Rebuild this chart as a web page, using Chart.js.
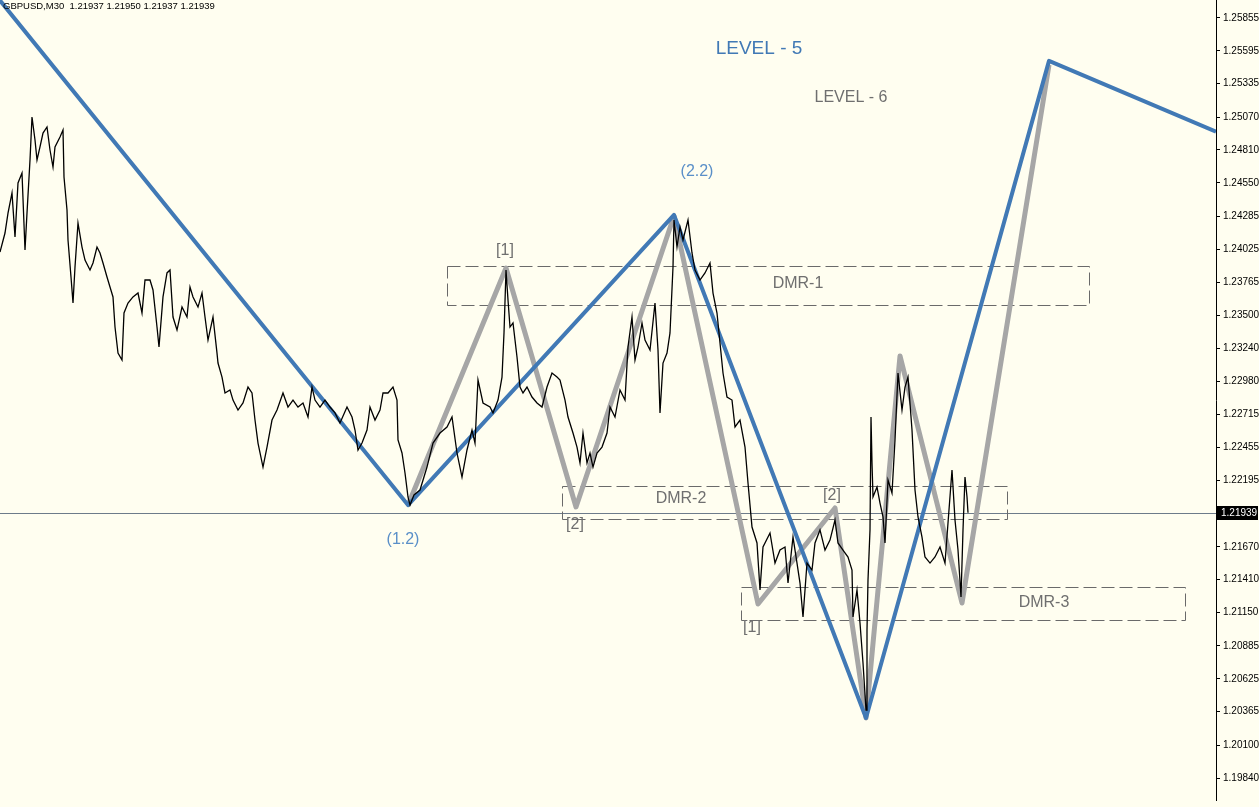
<!DOCTYPE html>
<html>
<head>
<meta charset="utf-8">
<title>GBPUSD M30</title>
<script src="https://cdn.jsdelivr.net/npm/chart.js@4.4.1/dist/chart.umd.min.js"></script>
<style>
    body { margin: 0; background: #fffef0; }
    #wrap { width: 1259px; height: 807px; position: relative; }
    canvas { background: #fffef0; }
</style>
</head>
<body>
<div id="wrap"><canvas id="priceChart"></canvas></div>
<script>
// Price axis ticks (right scale)
const tickValues = [1.25855, 1.25595, 1.25335, 1.25070, 1.24810, 1.24550, 1.24285, 1.24025,
    1.23765, 1.23500, 1.23240, 1.22980, 1.22715, 1.22455, 1.22195, 1.21670, 1.21410,
    1.21150, 1.20885, 1.20625, 1.20365, 1.20100, 1.19840];
const lastPrice = 1.21939;
const header = 'GBPUSD,M30  1.21937 1.21950 1.21937 1.21939';

// Close price, traced bar by bar
const priceBars = [0, 5, 8, 12, 15, 18, 22, 25, 27, 30, 32, 35, 37, 40, 43, 47, 50, 53, 55, 60,
    63, 64, 67, 68, 71, 73, 75, 78, 82, 85, 90, 93, 97, 100, 103, 107, 110, 113, 115, 118,
    122, 124, 128, 133, 138, 142, 145, 150, 153, 157, 159, 163, 167, 170, 173, 177, 182, 187, 190, 193,
    198, 202, 205, 208, 213, 217, 218, 222, 225, 230, 233, 238, 243, 248, 252, 255, 258, 263, 267, 272,
    277, 283, 288, 293, 298, 303, 308, 312, 315, 320, 325, 330, 335, 340, 347, 352, 355, 358, 362, 367,
    370, 375, 380, 383, 388, 393, 397, 398, 402, 405, 408, 410, 414, 420, 427, 433, 440, 447, 452, 457,
    462, 467, 472, 475, 478, 483, 490, 493, 498, 502, 504, 506, 508, 510, 513, 517, 520, 523, 527, 532,
    537, 542, 547, 552, 557, 560, 565, 568, 573, 577, 580, 583, 587, 590, 593, 597, 602, 607, 610, 615,
    620, 625, 628, 632, 635, 638, 642, 645, 650, 655, 658, 660, 663, 667, 670, 673, 674, 677, 680, 683,
    688, 692, 695, 700, 705, 710, 713, 717, 720, 723, 727, 732, 735, 740, 745, 748, 752, 757, 760, 763,
    770, 775, 780, 785, 788, 793, 797, 800, 803, 807, 812, 815, 820, 825, 830, 835, 838, 843, 848, 852,
    853, 857, 860, 863, 866, 867, 868, 870, 871, 872, 873, 877, 880, 883, 885, 888, 892, 895, 898, 902,
    905, 908, 912, 915, 918, 922, 925, 930, 935, 940, 945, 948, 952, 955, 958, 961, 963, 965, 967, 968];
const priceValues = [1.24003, 1.24153, 1.24311, 1.24470, 1.24121, 1.24549, 1.24628, 1.24019, 1.24311, 1.24731,
    1.25071, 1.24889, 1.24731, 1.24834, 1.24944, 1.24992, 1.24810, 1.24675, 1.24834, 1.24913,
    1.24968, 1.24596, 1.24335, 1.24098, 1.23805, 1.23599, 1.23884, 1.24232, 1.24042, 1.23939,
    1.23860, 1.23916, 1.24042, 1.23995, 1.23916, 1.23805, 1.23726, 1.23647, 1.23409, 1.23203,
    1.23148, 1.23520, 1.23599, 1.23647, 1.23678, 1.23520, 1.23781, 1.23781, 1.23702, 1.23409,
    1.23251, 1.23647, 1.23837, 1.23860, 1.23488, 1.23385, 1.23567, 1.23488, 1.23726, 1.23647,
    1.23567, 1.23678, 1.23488, 1.23306, 1.23488, 1.23203, 1.23124, 1.23013, 1.22887, 1.22911,
    1.22831, 1.22752, 1.22808, 1.22934, 1.22887, 1.22673, 1.22491, 1.22301, 1.22459, 1.22673,
    1.22752, 1.22887, 1.22776, 1.22831, 1.22776, 1.22808, 1.22697, 1.22934, 1.22831, 1.22776,
    1.22831, 1.22776, 1.22729, 1.22649, 1.22776, 1.22697, 1.22594, 1.22436, 1.22491, 1.22594,
    1.22776, 1.22673, 1.22752, 1.22887, 1.22887, 1.22934, 1.22831, 1.22515, 1.22412, 1.22254,
    1.22064, 1.22000, 1.22080, 1.22119, 1.22301, 1.22491, 1.22570, 1.22618, 1.22697, 1.22412,
    1.22222, 1.22436, 1.22594, 1.22491, 1.22990, 1.22808, 1.22776, 1.22729, 1.22831, 1.23013,
    1.23362, 1.23860, 1.23623, 1.23409, 1.23441, 1.23172, 1.22934, 1.22887, 1.22934, 1.22855,
    1.22808, 1.22776, 1.22934, 1.23045, 1.23013, 1.22990, 1.22831, 1.22697, 1.22570, 1.22459,
    1.22333, 1.22570, 1.22333, 1.22412, 1.22301, 1.22412, 1.22459, 1.22570, 1.22776, 1.22697,
    1.22911, 1.22831, 1.23251, 1.23488, 1.23148, 1.23251, 1.23441, 1.23306, 1.23227, 1.23599,
    1.23227, 1.22729, 1.23124, 1.23203, 1.23362, 1.23884, 1.24256, 1.24042, 1.24201, 1.24098,
    1.24256, 1.23995, 1.23860, 1.23781, 1.23837, 1.23916, 1.23678, 1.23520, 1.23283, 1.23045,
    1.22855, 1.22831, 1.22618, 1.22673, 1.22459, 1.22175, 1.21826, 1.21700, 1.21328, 1.21668,
    1.21779, 1.21541, 1.21644, 1.21668, 1.21383, 1.21747, 1.21541, 1.21383, 1.21114, 1.21541,
    1.21486, 1.21700, 1.21803, 1.21644, 1.21723, 1.21882, 1.21700, 1.21644, 1.21589, 1.21486,
    1.21114, 1.21328, 1.21067, 1.20750, 1.20378, 1.21011, 1.21407, 1.21803, 1.22697, 1.22333,
    1.22064, 1.22143, 1.22016, 1.21906, 1.21700, 1.22198, 1.22095, 1.22515, 1.23045, 1.22752,
    1.22934, 1.23013, 1.22594, 1.22119, 1.21906, 1.21747, 1.21589, 1.21541, 1.21589, 1.21668,
    1.21541, 1.21858, 1.22277, 1.21882, 1.21644, 1.21272, 1.21803, 1.22222, 1.22064, 1.21939];

// Level 5 zigzag (blue)
const level5Bars = [-40, 408, 674, 866, 1049, 1216];
const level5Values = [1.26385, 1.22000, 1.24296, 1.20315, 1.25515, 1.24955];

// Level 6 zigzag (gray)
const level6Bars = [408, 506, 576, 674, 758, 835, 866, 900, 962, 1049];
const level6Values = [1.22000, 1.23876, 1.21985, 1.24288, 1.21217, 1.21977, 1.20315, 1.23180, 1.21225, 1.25483];

// DMR zones: [fromBar, toBar], [top, bottom]
const dmrNames = ['DMR-1', 'DMR-2', 'DMR-3'];
const dmrBars = [[447, 1089], [562, 1007], [741, 1185]];
const dmrPrices = [[1.23892, 1.23583], [1.22151, 1.21890], [1.21352, 1.21090]];
const dmrLabelBars = [798, 681, 1044];
const dmrLabelPrices = [1.23749, 1.22048, 1.21225];

// Wave labels
const waveTexts = ['LEVEL - 5', 'LEVEL - 6', '(2.2)', '(1.2)', '[1]', '[2]', '[1]', '[2]'];
const waveBars = [759, 851, 697, 403, 505, 575, 752, 832];
const wavePrices = [1.25610, 1.25221, 1.24636, 1.21723, 1.24011, 1.21842, 1.21027, 1.22072];

const toPoints = (bars, values) => bars.map((b, i) => ({ x: b, y: values[i] }));

const FONT = '"Liberation Sans", Arial, sans-serif';
const blue = '#4179b5';
const labelBlue = '#5a8fc8';
const gray = '#a6a6a6';
const textGray = '#6f6f6f';

// Zones, last price line and labels
const overlayPlugin = {
    id: 'overlay',
    beforeDatasetsDraw(chart) {
        const { ctx, chartArea, scales: { x, y } } = chart;
        ctx.save();
        ctx.beginPath();
        ctx.rect(chartArea.left, chartArea.top, chartArea.width, chartArea.height);
        ctx.clip();

        // current price line
        const py = Math.round(y.getPixelForValue(lastPrice)) + 0.5;
        ctx.strokeStyle = '#6d7b8a';
        ctx.lineWidth = 1;
        ctx.beginPath();
        ctx.moveTo(chartArea.left, py);
        ctx.lineTo(chartArea.right, py);
        ctx.stroke();

        // DMR boxes
        ctx.setLineDash([13, 5]);
        ctx.strokeStyle = '#6a6a6a';
        dmrBars.forEach((b, i) => {
            const x1 = Math.round(x.getPixelForValue(b[0])) + 0.5;
            const x2 = Math.round(x.getPixelForValue(b[1])) + 0.5;
            const y1 = Math.round(y.getPixelForValue(dmrPrices[i][0])) + 0.5;
            const y2 = Math.round(y.getPixelForValue(dmrPrices[i][1])) + 0.5;
            ctx.strokeRect(x1, y1, x2 - x1, y2 - y1);
        });
        ctx.restore();
    },
    afterDatasetsDraw(chart) {
        const { ctx, scales: { x, y } } = chart;
        ctx.save();
        ctx.textAlign = 'center';
        ctx.textBaseline = 'middle';

        ctx.font = '16px ' + FONT;
        ctx.fillStyle = textGray;
        dmrNames.forEach((name, i) => {
            ctx.fillText(name, x.getPixelForValue(dmrLabelBars[i]), y.getPixelForValue(dmrLabelPrices[i]));
        });

        waveTexts.forEach((t, i) => {
            let color = textGray;
            let size = 16;
            if (i === 0) { color = blue; size = 19; }
            if (i === 2 || i === 3) color = labelBlue;
            ctx.font = size + 'px ' + FONT;
            ctx.fillStyle = color;
            ctx.fillText(t, x.getPixelForValue(waveBars[i]), y.getPixelForValue(wavePrices[i]));
        });
        ctx.restore();
    },
    afterDraw(chart) {
        const { ctx, chartArea, scales: { y } } = chart;
        ctx.save();
        // header
        ctx.font = '9.5px ' + FONT;
        ctx.fillStyle = '#000';
        ctx.textAlign = 'left';
        ctx.textBaseline = 'top';
        ctx.fillText(header, 3, 2);

        // last price tag
        const py = Math.round(y.getPixelForValue(lastPrice));
        ctx.fillStyle = '#000';
        ctx.fillRect(chartArea.right + 1, py - 7, 41, 14);
        ctx.fillStyle = '#fff';
        ctx.font = '10px ' + FONT;
        ctx.textBaseline = 'middle';
        ctx.fillText(lastPrice.toFixed(5), chartArea.right + 5, py + 0.5);
        ctx.restore();
    }
};

const ctx = document.getElementById('priceChart').getContext('2d');
const priceChart = new Chart(ctx, {
    type: 'scatter',
    data: {
        datasets: [{
            label: 'GBPUSD',
            data: toPoints(priceBars, priceValues),
            showLine: true,
            borderColor: '#000',
            borderWidth: 1.3,
            pointRadius: 0,
            tension: 0
        }, {
            label: 'Level 5',
            data: toPoints(level5Bars, level5Values),
            showLine: true,
            borderColor: blue,
            borderWidth: 4,
            borderJoinStyle: 'round',
            pointRadius: 0
        }, {
            label: 'Level 6',
            data: toPoints(level6Bars, level6Values),
            showLine: true,
            borderColor: gray,
            borderWidth: 5,
            borderJoinStyle: 'round',
            pointRadius: 0
        }]
    },
    options: {
        responsive: true,
        maintainAspectRatio: false,
        animation: false,
        layout: { padding: { top: 0, left: 0, right: 0, bottom: 7 } },
        scales: {
            x: {
                type: 'linear',
                min: 0,
                max: 1216,
                display: false
            },
            y: {
                type: 'linear',
                position: 'right',
                min: 1.19666,
                max: 1.25997,
                afterBuildTicks: (scale) => {
                    scale.ticks = tickValues.map(v => ({ value: v }));
                },
                afterFit: (scale) => {
                    scale.width = 43;
                    scale.paddingTop = 0;
                    scale.paddingBottom = 0;
                },
                ticks: {
                    autoSkip: false,
                    color: '#000',
                    padding: 3,
                    font: { family: FONT, size: 10 },
                    callback: (v) => Number(v).toFixed(5)
                },
                grid: {
                    drawOnChartArea: false,
                    drawTicks: true,
                    tickLength: 4,
                    color: '#000'
                },
                border: { display: true, color: '#000', width: 1 }
            }
        },
        plugins: {
            legend: { display: false },
            tooltip: { enabled: false }
        }
    },
    plugins: [overlayPlugin]
});
</script>
</body>
</html>
